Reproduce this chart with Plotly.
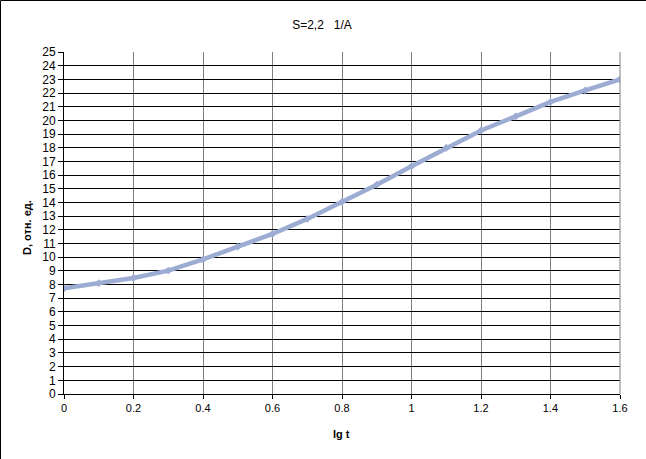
import plotly.graph_objects as go

lg_t = [0.0, 0.1, 0.2, 0.3, 0.4, 0.5, 0.6, 0.7, 0.8, 0.9, 1.0, 1.1, 1.2, 1.3, 1.4, 1.5, 1.6]
D = [7.73, 8.1, 8.48, 9.02, 9.84, 10.77, 11.7, 12.8, 14.05, 15.3, 16.65, 18.0, 19.26, 20.3, 21.35, 22.2, 23.0]

x_ticks = [0, 0.2, 0.4, 0.6, 0.8, 1, 1.2, 1.4, 1.6]
x_tick_labels = ["0", "0.2", "0.4", "0.6", "0.8", "1", "1.2", "1.4", "1.6"]
y_ticks = list(range(0, 26))

W, H = 646, 459
L, R, T, B = 64, 26, 52, 65
pw, ph = W - L - R, H - T - B

fig = go.Figure()
fig.add_trace(go.Scatter(
    x=lg_t, y=D, mode="lines+markers",
    line=dict(color="#9DACD3", width=4.5),
    marker=dict(symbol="diamond", size=6, color="#9DACD3"),
    showlegend=False, hoverinfo="skip",
))

font = "Liberation Sans, Arial, sans-serif"
fig.update_layout(
    width=W, height=H,
    margin=dict(l=L, r=R, t=T, b=B, pad=0, autoexpand=False),
    paper_bgcolor="white", plot_bgcolor="white",
    font=dict(family=font, size=11, color="#000000"),
    title=dict(text="S=2,2   1/A", x=(322 - L) / pw, xref="paper", xanchor="center",
               y=1 - 25 / H, yanchor="middle", font=dict(size=12, family=font)),
    xaxis=dict(
        range=[0, 1.6], tickvals=x_ticks, ticktext=x_tick_labels,
        showgrid=True, gridcolor="#808080", gridwidth=1,
        showline=True, linecolor="#000000", linewidth=1,
        ticks="outside", ticklen=4, tickcolor="#000000",
        zeroline=False, mirror=False, automargin=False,
        tickfont=dict(size=11),
    ),
    yaxis=dict(
        range=[0, 25], tickvals=y_ticks,
        showgrid=True, gridcolor="#000000", gridwidth=1,
        showline=True, linecolor="#000000", linewidth=1,
        ticks="outside", ticklen=5, tickcolor="#000000",
        zeroline=False, automargin=False,
        tickfont=dict(size=12),
    ),
    annotations=[
        dict(text="<b>lg t</b>", xref="paper", yref="paper",
             x=(341 - L) / pw, y=-(434 - T - ph) / ph,
             xanchor="center", yanchor="middle", showarrow=False,
             font=dict(size=11)),
        dict(text="<b>D, отн. ед.</b>", xref="paper", yref="paper",
             x=-(L - 27) / pw, y=1 - (228 - T) / ph, textangle=-90,
             xanchor="center", yanchor="middle", showarrow=False,
             font=dict(size=11)),
    ],
    shapes=[
        dict(type="line", xref="paper", yref="paper",
             x0=-(L - 0.5) / pw, x1=(W - L) / pw, y0=1 + (T - 0.5) / ph, y1=1 + (T - 0.5) / ph,
             line=dict(color="#000000", width=1)),
        dict(type="line", xref="paper", yref="paper",
             x0=-(L - 0.5) / pw, x1=-(L - 0.5) / pw, y0=1 + (T - 0.5) / ph, y1=-(B + 5) / ph,
             line=dict(color="#000000", width=1)),
        dict(type="line", xref="paper", yref="paper",
             x0=1, x1=1, y0=0, y1=1,
             line=dict(color="#808080", width=1)),
    ],
)

fig.write_html(
    "out.html",
    config={"displayModeBar": False},
    post_script="document.body.style.margin='0';document.body.style.overflow='hidden';",
)
